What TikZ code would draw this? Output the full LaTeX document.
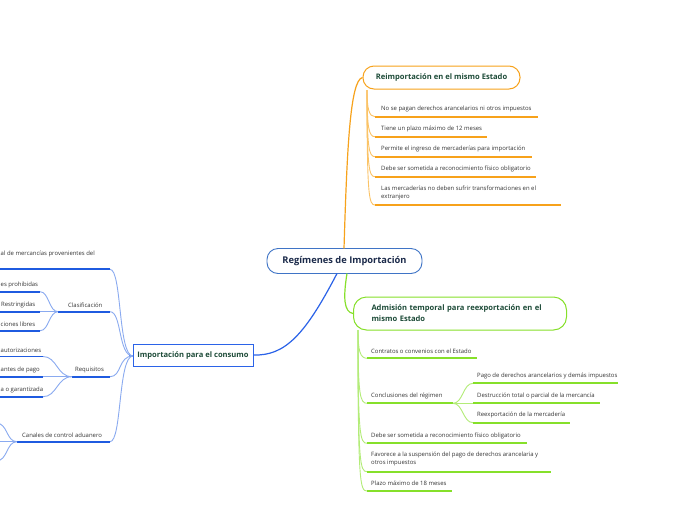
\documentclass[tikz,border=0pt]{standalone}
\usepackage{fontspec}
\setmainfont{Open Sans}
\definecolor{orangeL}{HTML}{F7A21B}
\definecolor{orangeC}{HTML}{FBC366}
\definecolor{greenL}{HTML}{86E02A}
\definecolor{greenC}{HTML}{B3EC78}
\definecolor{blueL}{HTML}{1F5BE0}
\definecolor{blueC}{HTML}{8AAAF0}
\definecolor{blueM}{HTML}{2B63E8}
\definecolor{titletext}{HTML}{1D4B38}
\definecolor{leaftext}{HTML}{333333}
\definecolor{rootborder}{HTML}{3F74C6}
\definecolor{roottext}{HTML}{1B2A4A}
\tikzset{
  leaf/.style={inner sep=0pt, anchor=west, align=left, text=leaftext, font=\fontsize{5.95}{8}\selectfont},
  leafr/.style={leaf, anchor=east},
  under/.style={line width=1.8pt},
  conn/.style={line width=0.9pt},
  mainconn/.style={line width=1.2pt},
  rootnode/.style={draw=rootborder, line width=0.9pt, fill=white, rounded corners=11pt, minimum width=155pt, minimum height=25pt, inner sep=0pt, text=roottext, font=\fontsize{9.3}{11}\selectfont\bfseries},
  titlenode/.style={fill=white, text=titletext, inner sep=0pt, font=\fontsize{7.6}{11}\selectfont\bfseries},
}
\begin{document}
\begin{tikzpicture}[x=1pt,y=-1pt]
\useasboundingbox (0,0) rectangle (696,520);
\fill[white] (0,0) rectangle (696,520);
\clip (0,0) rectangle (696,520);

% ---------- root ----------
\node[rootnode] (root) at (344.5,261) {Regímenes de Importación};
\coordinate (rootO) at (344,248.5);
\coordinate (rootG) at (347,273.5);
\coordinate (rootB) at (337,273.5);

% ---------- orange branch ----------
\node[titlenode, draw=orangeL, line width=1pt, rounded corners=11pt, minimum width=157pt, minimum height=23pt] (orh) at (441.5,77.5) {Reimportación en el mismo Estado};
\draw[mainconn, orangeL] (rootO) .. controls (347,150) and (350,80) .. (orh.west);
\coordinate (os) at (367,90);

\coordinate (o1a) at (375,116.7); \coordinate (o1b) at (538,116.7);
\node[leaf] (o1) at (381,109) {No se pagan derechos arancelarios ni otros impuestos};
\coordinate (o2a) at (375,136.7); \coordinate (o2b) at (487,136.7);
\node[leaf] (o2) at (381,129) {Tiene un plazo máximo de 12 meses};
\coordinate (o3a) at (375,156.7); \coordinate (o3b) at (532,156.7);
\node[leaf] (o3) at (381,149) {Permite el ingreso de mercaderías para importación};
\coordinate (o4a) at (375,176.7); \coordinate (o4b) at (536,176.7);
\node[leaf] (o4) at (381,169) {Debe ser sometida a reconocimiento físico obligatorio};
\coordinate (o5a) at (375,205); \coordinate (o5b) at (561,205);
\node[leaf] (o5) at (381,193) {Las mercaderías no deben sufrir transformaciones en el\\extranjero};
\foreach \i/\y in {1/116.7,2/136.7,3/156.7,4/176.7,5/205}{
  \draw[conn, orangeC] (os) .. controls (367,\y-8) and (369,\y) .. (o\i a);
  \draw[under, orangeL] (o\i a) -- (o\i b);
}

% ---------- green branch ----------
\node[titlenode, draw=greenL, line width=1pt, rounded corners=13pt, anchor=west, minimum height=33pt, text width=177pt, align=left, inner xsep=18pt, font=\fontsize{7.6}{11}\selectfont\bfseries] (grh) at (353,313.5) {Admisión temporal para reexportación en el\\mismo Estado};
\draw[mainconn, greenL] (rootG) .. controls (343,298) and (344,312) .. (grh.west);
\coordinate (gs) at (358,330);

\coordinate (g1a) at (367,358.3); \coordinate (g1b) at (477,358.3);
\node[leaf] (g1) at (371,351) {Contratos o convenios con el Estado};
\coordinate (g2a) at (367,403.3); \coordinate (g2b) at (453,403.3);
\node[leaf] (g2) at (371,396) {Conclusiones del régimen};
\coordinate (g3a) at (367,443.3); \coordinate (g3b) at (527,443.3);
\node[leaf] (g3) at (371,436) {Debe ser sometida a reconocimiento físico obligatorio};
\coordinate (g4a) at (367,471.7); \coordinate (g4b) at (551,471.7);
\node[leaf] (g4) at (371,459) {Favorece a la suspensión del pago de derechos arancelaria y\\otros impuestos};
\coordinate (g5a) at (367,491); \coordinate (g5b) at (452,491);
\node[leaf] (g5) at (371,483.5) {Plazo máximo de 18 meses};
\foreach \i/\y in {1/358.3,2/403.3,3/443.3,4/471.7,5/491}{
  \draw[conn, greenC] (gs) .. controls (358,\y-8) and (360,\y) .. (g\i a);
  \draw[under, greenL] (g\i a) -- (g\i b);
}
% sub-branch of Conclusiones
\coordinate (c1a) at (473,383.3); \coordinate (c1b) at (618,383.3);
\node[leaf] (c1) at (477,376) {Pago de derechos arancelarios y demás impuestos};
\coordinate (c2a) at (473,403.3); \coordinate (c2b) at (600,403.3);
\node[leaf] (c2) at (477,395.5) {Destrucción total o parcial de la mercancía};
\coordinate (c3a) at (473,422.7); \coordinate (c3b) at (570,422.7);
\node[leaf] (c3) at (477,415) {Reexportación de la mercadería};
\foreach \i/\y in {1/383.3,2/403.3,3/422.7}{
  \draw[conn, greenC] (g2b) .. controls (463,403.3) and (463,\y) .. (c\i a);
  \draw[under, greenL] (c\i a) -- (c\i b);
}

% ---------- blue branch ----------
\node[titlenode, draw=blueM, line width=1pt, minimum width=120pt, minimum height=22pt] (blh) at (193,355) {Importación para el consumo};
\draw[mainconn, blueM] (rootB) .. controls (305,335) and (285,356) .. (blh.east);
\coordinate (bs) at (133,356);
\draw[under, blueM] (129,356) -- (bs);

\coordinate (b1a) at (110,269.3); \coordinate (b1b) at (-2,269.3);
\node[leaf] (b1) at (0.5,254) {al de mercancías provenientes del};
\coordinate (b2a) at (110,311.7); \coordinate (b2b) at (58,311.7);
\node[leaf] (b2) at (68,305) {Clasificación};
\coordinate (b3a) at (110,376.7); \coordinate (b3b) at (72,376.7);
\node[leaf] (b3) at (75,370) {Requisitos};
\coordinate (b4a) at (110,441.7); \coordinate (b4b) at (17,441.7);
\node[leaf] (b4) at (22,435) {Canales de control aduanero};
\foreach \i/\y in {1/269.3,2/311.7,3/376.7,4/441.7}{
  \draw[conn, blueC] (bs) .. controls (118,356) and (122,\y) .. (b\i a);
  \draw[under, blueL] (b\i a) -- (b\i b);
}
% Clasificación children
\coordinate (k1a) at (40,291.7); \coordinate (k1b) at (-2,291.7);
\node[leaf] (k1) at (0.5,285) {es prohibidas};
\coordinate (k2a) at (40,311.7); \coordinate (k2b) at (-2,311.7);
\node[leaf] (k2) at (1,305) {Restringidas};
\coordinate (k3a) at (40,330.7); \coordinate (k3b) at (-2,330.7);
\node[leaf] (k3) at (0.5,324.5) {ciones libres};
\foreach \i/\y in {1/291.7,2/311.7,3/330.7}{
  \draw[conn, blueC] (b2b) .. controls (49,311.7) and (49,\y) .. (k\i a);
  \draw[under, blueL] (k\i a) -- (k\i b);
}
% Requisitos children
\coordinate (r1a) at (43,356.5); \coordinate (r1b) at (-2,356.5);
\node[leaf] (r1) at (0.5,350) {autorizaciones};
\coordinate (r2a) at (43,376.7); \coordinate (r2b) at (-2,376.7);
\node[leaf] (r2) at (0.5,370) {antes de pago};
\coordinate (r3a) at (43,396.7); \coordinate (r3b) at (-2,396.7);
\node[leaf] (r3) at (0.5,390) {a o garantizada};
\foreach \i/\y in {1/356.5,2/376.7,3/396.7}{
  \draw[conn, blueC] (b3b) .. controls (57,376.7) and (57,\y) .. (r\i a);
  \draw[under, blueL] (r\i a) -- (r\i b);
}
% Canales children (off the left edge)
\coordinate (q1a) at (-4,423); \coordinate (q2a) at (-4,441.7); \coordinate (q3a) at (-4,461);
\foreach \i/\y in {1/423,2/441.7,3/461}{
  \draw[conn, blueC] (b4b) .. controls (6,441.7) and (8,\y) .. (q\i a);
}
\end{tikzpicture}
\end{document}
